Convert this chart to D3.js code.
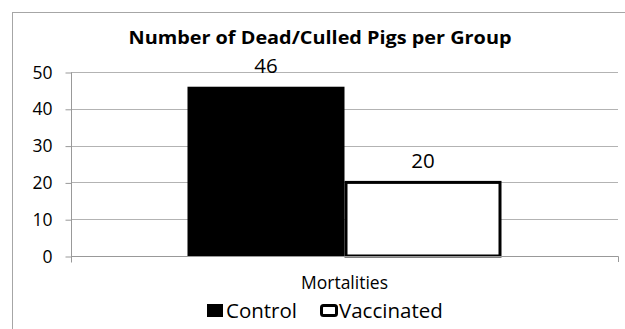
<!DOCTYPE html>
<html><head><meta charset="utf-8">
<script src="https://cdn.jsdelivr.net/npm/d3@7"></script>
<style>body{margin:0;background:#fff;} text{font-family:"Open Sans",sans-serif;}</style>
</head><body>
<svg id="c" width="625" height="329"></svg>
<script>
const categories = ["Mortalities"];
const seriesNames = ["Control", "Vaccinated"];
const controlValues = [46];
const vaccinatedValues = [20];
const yTicks = [0, 10, 20, 30, 40, 50];
const titleText = "Number of Dead/Culled Pigs per Group";

(function () {
const svg = d3.select("#c");
svg.append("rect").attr("x", 12.5).attr("y", 12.5).attr("width", 620).attr("height", 340)
  .attr("fill", "#fff").attr("stroke", "#a6a6a6").attr("stroke-width", 1);

const pLeft = 71, pRight = 618, pTop = 72, pBottom = 256;
const y = d3.scaleLinear().domain([0, 50]).range([pBottom, pTop]);
const x = d3.scaleBand().domain(categories).range([pLeft, pRight]).paddingInner(0).paddingOuter(0.371);
const xs = d3.scaleBand().domain(seriesNames).range([0, x.bandwidth()]).padding(0);

// gridlines
svg.append("g").selectAll("line").data(yTicks.filter(d => d > 0)).join("line")
  .attr("x1", pLeft).attr("x2", pRight)
  .attr("y1", d => Math.round(y(d)) + 0.5).attr("y2", d => Math.round(y(d)) + 0.5)
  .attr("stroke", "#b3b3b3").attr("stroke-width", 1);

// y axis
const yAxis = svg.append("g").attr("transform", `translate(${pLeft + 0.5},0.5)`)
  .call(d3.axisLeft(y).tickValues(yTicks).tickSize(6).tickPadding(13).tickFormat(d3.format("d")));
yAxis.select(".domain").attr("stroke", "#999").attr("d", `M0,${pBottom + 6}V${pTop}`);
yAxis.selectAll(".tick line").attr("stroke", "#999");
yAxis.selectAll(".tick text").attr("font-size", 17.5).attr("fill", "#000").attr("font-family", "Open Sans");

const series = [
  {name: "Control", values: controlValues, fill: "#000", stroke: "none", sw: 0},
  {name: "Vaccinated", values: vaccinatedValues, fill: "#fff", stroke: "#000", sw: 3}
];

// bars
series.forEach(s => {
  svg.append("g").selectAll("rect").data(categories).join("rect")
    .attr("x", (c) => x(c) + xs(s.name) + s.sw / 2)
    .attr("y", (c, i) => y(s.values[i]))
    .attr("width", xs.bandwidth() - s.sw)
    .attr("height", (c, i) => pBottom - y(s.values[i]))
    .attr("fill", s.fill).attr("stroke", s.stroke).attr("stroke-width", s.sw);
  svg.append("g").selectAll("text").data(categories).join("text")
    .attr("x", c => x(c) + xs(s.name) + xs.bandwidth() / 2)
    .attr("y", (c, i) => y(s.values[i]) - 14)
    .attr("text-anchor", "middle").attr("font-size", 20.5).attr("fill", "#000")
    .text((c, i) => s.values[i]);
});

// x axis
svg.append("path").attr("d", `M${pLeft + 0.5},${pBottom + 6}V${pBottom + 0.5}H${pRight + 0.5}V${pBottom + 6}`)
  .attr("fill", "none").attr("stroke", "#999");
svg.append("g").selectAll("text").data(categories).join("text")
  .attr("x", c => x(c) + x.bandwidth() / 2).attr("y", 289)
  .attr("text-anchor", "middle").attr("font-size", 17.5).attr("fill", "#000").text(d => d);

// title
svg.append("text").attr("x", 320).attr("y", 44).attr("text-anchor", "middle")
  .attr("font-size", 17.5).attr("font-weight", "bold").attr("fill", "#000")
  .attr("textLength", 383).attr("lengthAdjust", "spacingAndGlyphs").text(titleText);

// legend
const legendItems = [
  {name: seriesNames[0], bx: 207, tx: 226, fill: "#000", stroke: "none", sw: 0},
  {name: seriesNames[1], bx: 321.5, tx: 339, fill: "#fff", stroke: "#000", sw: 3}
];
const lg = svg.append("g");
legendItems.forEach(d => {
  if (d.sw) {
    lg.append("rect").attr("x", d.bx).attr("y", 305.5).attr("width", 15).attr("height", 10)
      .attr("rx", 2).attr("fill", d.fill).attr("stroke", d.stroke).attr("stroke-width", d.sw);
  } else {
    lg.append("rect").attr("x", d.bx).attr("y", 304).attr("width", 16).attr("height", 13).attr("fill", d.fill);
  }
  lg.append("text").attr("x", d.tx).attr("y", 317.5).attr("font-size", 20.5).attr("fill", "#000").text(d.name);
});
})();
</script>
</body></html>
